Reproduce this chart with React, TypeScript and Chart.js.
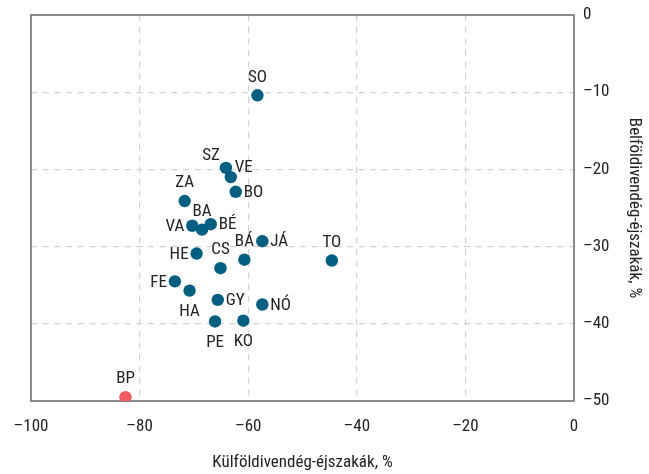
import React, { useEffect, useRef } from "react";
import { Chart, registerables } from "chart.js";

Chart.register(...registerables);

const labels = ["SO", "SZ", "VE", "BO", "ZA", "BA", "VA", "BÉ", "BÁ", "JÁ", "TO", "HE", "CS", "FE", "HA", "GY", "NÓ", "PE", "KO"];
const foreignNights = [-58.3, -64.1, -63.2, -62.3, -71.7, -68.5, -70.3, -66.9, -60.7, -57.4, -44.6, -69.5, -65.1, -73.5, -70.8, -65.6, -57.4, -66.1, -60.9];
const domesticNights = [-10.4, -19.8, -21.0, -22.9, -24.1, -27.8, -27.3, -27.1, -31.7, -29.3, -31.8, -30.9, -32.8, -34.5, -35.7, -36.9, -37.5, -39.7, -39.6];
const labelSide = ["top", "topleft", "topright", "right", "top", "top", "left", "right", "top", "right", "top", "left", "top", "left", "bottom", "right", "right", "bottom", "bottom"];

const bpLabel = ["BP"];
const bpForeign = [-82.6];
const bpDomestic = [-49.5];
const bpSide = ["top"];

const xTicks = [-100, -80, -60, -40, -20, 0];
const yTicks = [0, -10, -20, -30, -40, -50];

const FONT = "'Roboto Condensed', 'DejaVu Sans Condensed', sans-serif";
const TEXT = "#222222";
const fmt = (v: number) => String(v).replace("-", "–");

const labelPlugin = {
  id: "pointLabels",
  afterDatasetsDraw(chart: any) {
    const ctx = chart.ctx;
    ctx.save();
    ctx.font = `17px ${FONT}`;
    ctx.fillStyle = TEXT;
    chart.data.datasets.forEach((ds: any, di: number) => {
      const meta = chart.getDatasetMeta(di);
      meta.data.forEach((pt: any, i: number) => {
        const text = ds.pointLabels[i];
        const side = ds.labelSides[i];
        let x = pt.x, y = pt.y;
        ctx.textBaseline = "middle";
        if (side === "top") { ctx.textAlign = "center"; y -= 18; }
        else if (side === "bottom") { ctx.textAlign = "center"; y += 21; }
        else if (side === "left") { ctx.textAlign = "right"; x -= 8; y += 1; }
        else if (side === "right") { ctx.textAlign = "left"; x += 8; y += 1; }
        else if (side === "topleft") { ctx.textAlign = "right"; x -= 6; y -= 12; }
        else if (side === "topright") { ctx.textAlign = "left"; x += 4; y -= 9; }
        ctx.fillText(text, x, y);
      });
    });
    ctx.restore();
  },
};

const borderPlugin = {
  id: "plotBorder",
  beforeDatasetsDraw(chart: any) {
    const { left, top, right, bottom } = chart.chartArea;
    const ctx = chart.ctx;
    ctx.save();
    ctx.strokeStyle = "#8c8c8c";
    ctx.lineWidth = 2;
    ctx.strokeRect(left, top, right - left, bottom - top);
    ctx.restore();
  },
};

export default function App() {
  const ref = useRef<HTMLCanvasElement>(null);
  useEffect(() => {
    if (!ref.current) return;
    const chart = new Chart(ref.current, {
      type: "scatter",
      data: {
        datasets: [
          {
            data: foreignNights.map((x, i) => ({ x, y: domesticNights[i] })),
            backgroundColor: "#005f80",
            borderWidth: 0,
            pointRadius: 6.2,
            pointLabels: labels,
            labelSides: labelSide,
          } as any,
          {
            data: bpForeign.map((x, i) => ({ x, y: bpDomestic[i] })),
            backgroundColor: "#f25b60",
            borderWidth: 0,
            pointRadius: 6.2,
            pointLabels: bpLabel,
            labelSides: bpSide,
          } as any,
        ],
      },
      options: {
        animation: false,
        responsive: true,
        maintainAspectRatio: false,
        layout: { padding: { left: 31, right: 0, top: 15, bottom: 0 } },
        plugins: { legend: { display: false }, tooltip: { enabled: false } },
        scales: {
          x: {
            type: "linear",
            min: -100,
            max: 0,
            afterBuildTicks: (s: any) => { s.ticks = xTicks.map((v) => ({ value: v })); },
            afterFit: (s: any) => { s.height = 73; s.paddingLeft = 0; s.paddingRight = 0; },
            ticks: { callback: (v: any) => fmt(v), color: TEXT, font: { family: FONT, size: 17 }, padding: 16 },
            grid: { color: "#d2d2d2", lineWidth: 1.2, drawTicks: false },
            border: { display: false, dash: [6, 5.7] },
            title: { display: true, text: "Külföldivendég-éjszakák, %", color: TEXT, font: { family: FONT, size: 17 }, padding: { top: 4, bottom: 1 } },
          },
          y: {
            type: "linear",
            position: "right",
            min: -50,
            max: 0,
            afterBuildTicks: (s: any) => { s.ticks = yTicks.map((v) => ({ value: v })); },
            afterFit: (s: any) => { s.width = 75; s.paddingTop = 0; s.paddingBottom = 0; },
            ticks: { callback: (v: any) => fmt(v), color: TEXT, font: { family: FONT, size: 17 }, padding: 9 },
            grid: { color: "#d2d2d2", lineWidth: 1.2, drawTicks: false },
            border: { display: false, dash: [6, 5.7] },
            title: { display: true, text: "Belföldivendég-éjszakák, %", color: TEXT, font: { family: FONT, size: 17 }, padding: { top: 5, bottom: 4 } },
          },
        },
      },
      plugins: [labelPlugin, borderPlugin],
    } as any);
    return () => chart.destroy();
  }, []);
  return (
    <div style={{ position: "absolute", left: 0, top: 0, width: 649, height: 474 }}>
      <canvas ref={ref} />
    </div>
  );
}
